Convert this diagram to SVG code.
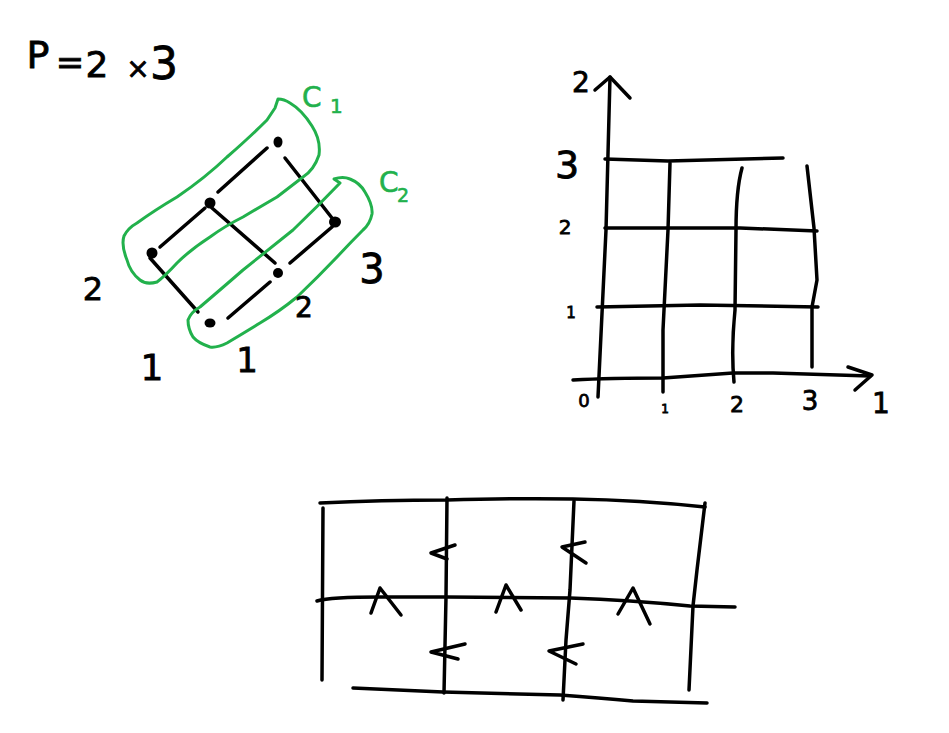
<svg xmlns="http://www.w3.org/2000/svg" width="949" height="733" viewBox="0 0 949 733">
<style>
.s{fill:none;stroke:#000;stroke-width:3.5;stroke-linecap:round;stroke-linejoin:round}
.g{fill:none;stroke:#22B14C;stroke-width:3;stroke-linecap:round;stroke-linejoin:round}
.t{font-family:"DejaVu Sans","Liberation Sans",sans-serif;fill:#000;stroke:#000;stroke-width:0.8;text-anchor:middle}
.tg{font-family:"DejaVu Sans","Liberation Sans",sans-serif;fill:#22B14C;stroke:#22B14C;stroke-width:0.6}
.d{fill:#000}
</style>
<rect width="949" height="733" fill="#fff"/>

<g id="formula">
<text class="t" font-size="38"><tspan x="38" y="68">P</tspan><tspan x="70" y="74" font-size="34">=</tspan><tspan x="97" y="77" font-size="36">2</tspan><tspan x="138" y="78" font-size="28">×</tspan><tspan x="164" y="79" font-size="44">3</tspan></text>
</g>

<g id="poset">
<g id="connectors">
<path class="s" d="M160,247 L205,208"/>
<path class="s" d="M218,192 L267,148"/>
<path class="s" d="M150,258 L198,312"/>
<path class="s" d="M212,208 L275,263"/>
<path class="s" d="M285,158 L332,218"/>
<path class="s" d="M290,263 L332,227"/>
<path class="s" d="M228,318 L270,282"/>
</g>
<g id="n11"><ellipse class="d" cx="210" cy="323" rx="5.5" ry="4.5"/></g>
<g id="n21"><ellipse class="d" cx="152" cy="253" rx="5.5" ry="5.5"/></g>
<g id="n12"><ellipse class="d" cx="278" cy="273" rx="5" ry="5"/></g>
<g id="n22"><ellipse class="d" cx="210" cy="203" rx="5.5" ry="5.5"/></g>
<g id="n13"><ellipse class="d" cx="335" cy="222" rx="6" ry="5.5"/></g>
<g id="n23"><ellipse class="d" cx="278" cy="142" rx="4.5" ry="5.5"/></g>
<g id="C1">
<path class="g" d="M275,108 L278,99 Q284,99 290,103 Q302,110 312,126 Q321,140 319,155 Q314,170 303,177 Q290,187 277,197 L243,217 Q225,226 210,237 Q190,250 177,263 Q165,276 157,282 Q146,285 140,280 Q130,272 127,260 Q121,245 124,236 Q128,228 137,223 Q155,210 177,197 Q205,178 227,157 Q250,137 267,120 Z"/>
<text class="tg" x="302" y="107" font-size="28">C<tspan x="330" y="113" font-size="20">1</tspan></text>
</g>
<g id="C2">
<path class="g" d="M340,183 L334,179 Q343,176 350,179 Q360,183 365,192 Q373,205 372,214 Q370,224 363,230 Q350,243 337,257 Q318,277 297,297 Q280,311 260,323 Q242,334 227,343 Q217,348 210,347 Q198,343 193,337 Q188,329 188,320 Q191,312 200,307 Q220,290 243,270 Q268,250 293,230 Q318,206 340,183"/>
<text class="tg" x="379" y="192" font-size="28">C<tspan x="397" y="202" font-size="19">2</tspan></text>
</g>
<g id="labels-left">
<text class="t" x="93" y="300" font-size="32">2</text>
<text class="t" x="152" y="380" font-size="36">1</text>
<text class="t" x="247" y="372" font-size="34">1</text>
<text class="t" x="304" y="317" font-size="28">2</text>
<text class="t" x="372" y="283" font-size="40">3</text>
</g>
</g>

<g id="grid-plot">
<path class="s" d="M598,397 Q603,300 606,230 L610,77"/>
<path class="s" d="M595,90 L610,77 L630,98"/>
<path class="s" d="M573,380 Q610,378 663,378 L733,373 L773,373 L870,376"/>
<path class="s" d="M848,367 L872,375 L855,390"/>
<path class="s" d="M605,159 L668,161 L783,158"/>
<path class="s" d="M605,228 L740,228 L817,231"/>
<path class="s" d="M597,307 L700,305 L818,307"/>
<path class="s" d="M670,163 L668,230 L663,330 L663,392"/>
<path class="s" d="M742,168 Q736,190 736,230 L735,310 Q731,350 734,382"/>
<path class="s" d="M807,166 L814,228 L817,280 L812,307 L812,367"/>
<text class="t" x="581" y="92" font-size="28">2</text>
<text class="t" x="567" y="178" font-size="38">3</text>
<text class="t" x="565" y="234" font-size="20">2</text>
<text class="t" x="571" y="318" font-size="15">1</text>
<text class="t" x="584" y="407" font-size="18">0</text>
<text class="t" x="665" y="413" font-size="12">1</text>
<text class="t" x="737" y="412" font-size="22">2</text>
<text class="t" x="810" y="410" font-size="26">3</text>
<text class="t" x="881" y="413" font-size="28">1</text>
</g>

<g id="arrow-grid">
<path class="s" d="M320,503 Q380,500 447,500 Q520,498 573,499 Q640,500 705,507"/>
<path class="s" d="M323,508 L322,680"/>
<path class="s" d="M447,498 L446,597 L444,693"/>
<path class="s" d="M574,501 L570,590 L566,640 L563,700"/>
<path class="s" d="M705,503 L697,570 L693,606 L689,690"/>
<path class="s" d="M317,601 Q330,597 380,597 L447,597 L570,598 Q630,600 690,606 L735,607"/>
<path class="s" d="M353,688 L443,692 L560,695 Q600,698 633,701 L707,703"/>
<path class="s" d="M455,545 L431,553 L447,559"/>
<path class="s" d="M585,542 L562,547 L586,563"/>
<path class="s" d="M465,644 L431,652 L458,659"/>
<path class="s" d="M583,644 L549,651 L576,664"/>
<path class="s" d="M371,613 L380,588 L401,615"/>
<path class="s" d="M496,612 L506,585 L521,610"/>
<path class="s" d="M618,614 L633,588 L650,624"/>
</g>
</svg>
